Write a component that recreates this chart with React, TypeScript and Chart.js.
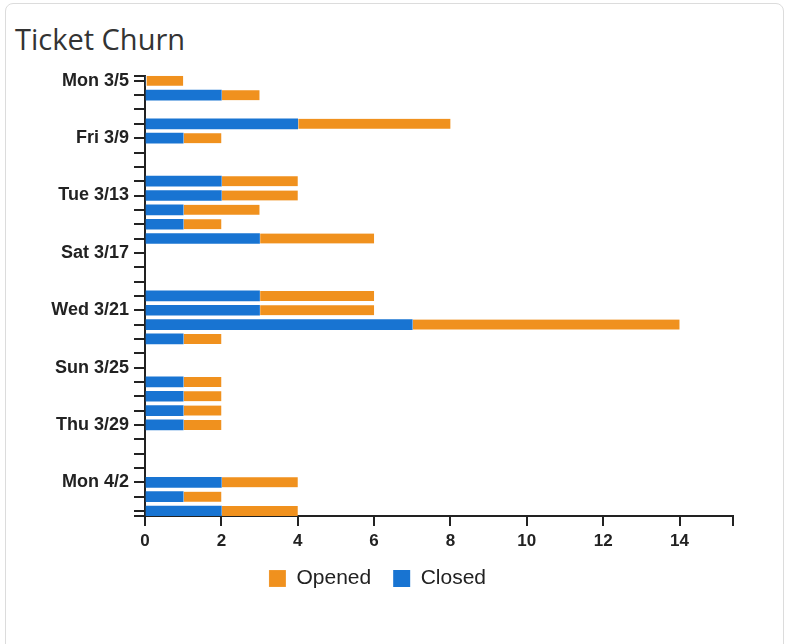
import React, { useEffect, useRef } from 'react';
import { Chart, registerables } from 'chart.js';

Chart.register(...registerables);

// Day index 0 = Mon 3/5 ... 30 = Wed 4/4
const tickDayIndex = [0, 4, 8, 12, 16, 20, 24, 28];
const tickLabels = ['Mon 3/5', 'Fri 3/9', 'Tue 3/13', 'Sat 3/17', 'Wed 3/21', 'Sun 3/25', 'Thu 3/29', 'Mon 4/2'];
const dayCount = 31;

const barDays = [0, 1, 3, 4, 7, 8, 9, 10, 11, 15, 16, 17, 18, 21, 22, 23, 24, 28, 29, 30];
const closedValues = [0, 2, 4, 1, 2, 2, 1, 1, 3, 3, 3, 7, 1, 1, 1, 1, 1, 2, 1, 2];
const openedValues = [1, 1, 4, 1, 2, 2, 2, 1, 3, 3, 3, 7, 1, 1, 1, 1, 1, 2, 1, 2];

const xTickValues = [0, 2, 4, 6, 8, 10, 12, 14];
const xMax = 15.4;
const yMin = -0.35;
const yMax = 30.35;

const ORANGE = '#F0911E';
const BLUE = '#1874D2';
const AXIS = '#222222';

export default function App() {
  const canvasRef = useRef<HTMLCanvasElement | null>(null);

  useEffect(() => {
    const canvas = canvasRef.current;
    if (!canvas) return;
    const days: number[] = [];
    for (let i = 0; i < dayCount; i++) days.push(i);

    const chart = new Chart(canvas, {
      type: 'bar',
      data: {
        datasets: [
          {
            label: 'Closed',
            data: barDays.map((d, i) => ({ x: closedValues[i], y: d })),
            backgroundColor: BLUE,
            barThickness: 10,
          },
          {
            label: 'Opened',
            data: barDays.map((d, i) => ({ x: openedValues[i], y: d })),
            backgroundColor: ORANGE,
            borderColor: 'rgba(255,255,255,0.6)',
            borderWidth: { left: 1, right: 0, top: 0, bottom: 0 },
            borderSkipped: false,
            barThickness: 10,
          },
        ],
      },
      options: {
        indexAxis: 'y',
        animation: false,
        responsive: false,
        maintainAspectRatio: false,
        layout: { padding: { left: 22, right: 57, top: 15, bottom: 21 } },
        plugins: {
          title: { display: false },
          tooltip: { enabled: false },
          legend: {
            display: true,
            position: 'bottom',
            labels: {
              boxWidth: 17,
              boxHeight: 17,
              padding: 22,
              color: '#222',
              font: { family: 'Liberation Sans, Arial, sans-serif', size: 21 },
              sort: (a: any, b: any) => b.datasetIndex - a.datasetIndex,
            },
          },
        },
        scales: {
          x: {
            type: 'linear',
            stacked: true,
            min: 0,
            max: xMax,
            afterBuildTicks: (scale: any) => {
              scale.ticks = [...xTickValues, xMax].map((v) => ({ value: v }));
            },
            afterFit: (scale: any) => {
              scale.height = 30;
            },
            ticks: {
              autoSkip: false,
              maxRotation: 0,
              padding: 5,
              color: '#222',
              font: { family: 'Liberation Sans, Arial, sans-serif', size: 17, weight: 'bold' },
              callback: (v: any) => (xTickValues.includes(Number(v)) ? String(v) : ''),
            },
            grid: {
              drawOnChartArea: false,
              drawTicks: true,
              tickLength: 10,
              color: AXIS,
              lineWidth: 2,
            },
            border: { display: true, color: AXIS, width: 2 },
          },
          y: {
            type: 'linear',
            stacked: true,
            reverse: true,
            offset: false,
            min: yMin,
            max: yMax,
            afterBuildTicks: (scale: any) => {
              scale.ticks = [yMin, ...days, yMax].map((v) => ({ value: v }));
            },
            afterFit: (scale: any) => {
              scale.width = 123;
            },
            ticks: {
              autoSkip: false,
              padding: 5,
              color: '#222',
              font: { family: 'Liberation Sans, Arial, sans-serif', size: 18, weight: 'bold' },
              callback: (v: any) => {
                const idx = tickDayIndex.indexOf(Number(v));
                return idx >= 0 ? tickLabels[idx] : '';
              },
            },
            grid: {
              offset: false,
              drawOnChartArea: false,
              drawTicks: true,
              tickLength: 11,
              color: AXIS,
              lineWidth: 2,
            },
            border: { display: true, color: AXIS, width: 2 },
          },
        },
      },
    } as any);

    return () => chart.destroy();
  }, []);

  return (
    <div style={{ position: 'absolute', left: 0, top: 0, width: 790, height: 644, overflow: 'hidden', background: '#fff' }}>
      <div
        style={{
          position: 'absolute',
          left: 5,
          top: 3,
          width: 779,
          height: 680,
          border: '1px solid #dcdcdc',
          borderRadius: 8,
          boxSizing: 'border-box',
        }}
      />
      <div
        style={{
          position: 'absolute',
          left: 15,
          top: 19,
          fontFamily: '"Open Sans", sans-serif',
          fontSize: 29,
          color: '#333',
          lineHeight: 'normal',
          whiteSpace: 'nowrap',
        }}
      >
        Ticket Churn
      </div>
      <canvas
        ref={canvasRef}
        width={790}
        height={560}
        style={{ position: 'absolute', left: 0, top: 60, width: 790, height: 560 }}
      />
    </div>
  );
}
